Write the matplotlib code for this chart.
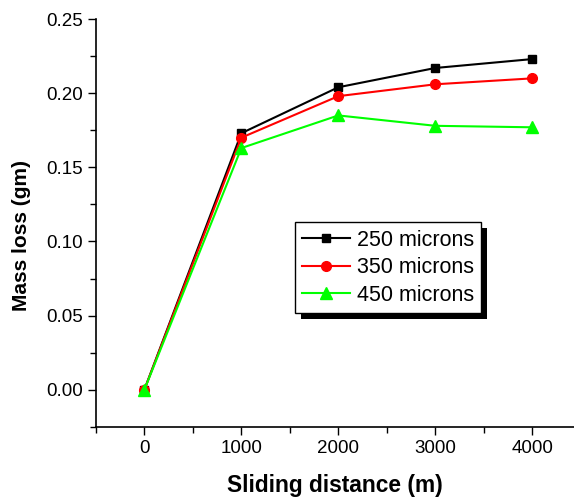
import numpy as np
import matplotlib.pyplot as plt
import matplotlib.patheffects as pe
from matplotlib.ticker import MultipleLocator

plt.rcParams['font.family'] = ['Liberation Sans', 'DejaVu Sans']

distance = [0, 1000, 2000, 3000, 4000]
loss_250 = [0.0, 0.173, 0.204, 0.217, 0.223]
loss_350 = [0.0, 0.170, 0.198, 0.206, 0.210]
loss_450 = [0.0, 0.163, 0.185, 0.178, 0.177]
labels = ['250 microns', '350 microns', '450 microns']

fig = plt.figure(figsize=(5.74, 5.01), dpi=100)
ax = fig.add_axes([0.167, 0.148, 0.833, 0.814])

ax.plot(distance, loss_250, color='black', marker='s', ms=6, lw=1.5, label=labels[0])
ax.plot(distance, loss_350, color='red', marker='o', ms=7, lw=1.5, label=labels[1])
ax.plot(distance, loss_450, color='#00ff00', marker='^', ms=8, lw=1.5, label=labels[2])

ax.set_xlim(-500, 4430)
ax.set_ylim(-0.025, 0.25)
ax.xaxis.set_major_locator(MultipleLocator(1000))
ax.xaxis.set_minor_locator(MultipleLocator(500))
ax.yaxis.set_major_locator(MultipleLocator(0.05))
ax.yaxis.set_minor_locator(MultipleLocator(0.025))
ax.yaxis.set_major_formatter(plt.FormatStrFormatter('%.2f'))
ax.tick_params(which='major', length=6, width=1, labelsize=13.5)
ax.tick_params(which='minor', length=4, width=1)
for s in ['top', 'right']:
    ax.spines[s].set_visible(False)
for s in ['left', 'bottom']:
    ax.spines[s].set_linewidth(1.2)

ax.set_xlabel('Sliding distance (m)', fontsize=16.4, fontweight='bold', labelpad=12)
ax.set_ylabel('Mass loss (gm)', fontsize=15, fontweight='bold')
ax.yaxis.set_label_coords(-0.135, 0.468)

leg = ax.legend(loc='upper left', bbox_to_anchor=(0.416, 0.502), borderaxespad=0,
                fontsize=15.5, fancybox=False, edgecolor='black', framealpha=1,
                handlelength=2.2, handletextpad=0.33, borderpad=0.35, labelspacing=0.3)
leg.get_frame().set_linewidth(1)
leg.get_frame().set_path_effects([
    pe.SimplePatchShadow(offset=(4.3, -4.3), shadow_rgbFace='black', alpha=1),
    pe.Normal()])

fig.savefig('out.png', dpi=100)
